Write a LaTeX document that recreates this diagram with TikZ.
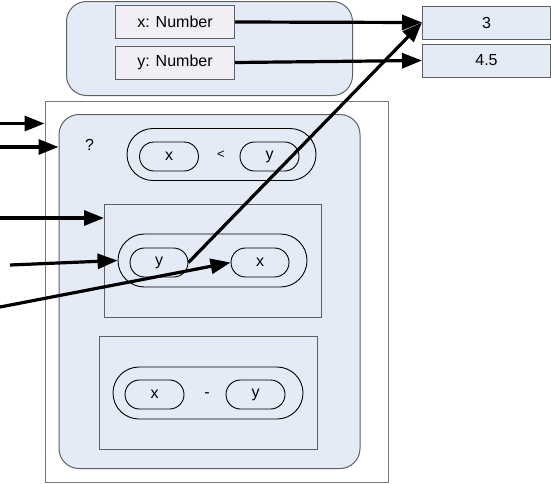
\documentclass[tikz,border=0pt]{standalone}
\usepackage{fontspec}
\setmainfont{Liberation Sans}
\usetikzlibrary{arrows.meta,shapes.misc}
\definecolor{lblue}{HTML}{E4EBF6}
\definecolor{lav}{HTML}{F1EFF5}
\definecolor{bgray}{HTML}{606060}
\definecolor{ogray}{HTML}{7A7A7A}
\tikzset{
  box/.style={draw=bgray, line width=1pt, inner sep=0pt, anchor=north west},
  namebox/.style={box, fill=lav},
  valbox/.style={box, fill=lblue},
  panel/.style={box, fill=lblue, rounded corners=20pt},
  plainrect/.style={draw=bgray, line width=1pt, inner sep=0pt, anchor=north west},
  pill/.style={rounded rectangle, draw=black, line width=0.9pt, inner sep=0pt, anchor=center},
  arr/.style={line width=3.2pt, -{Triangle[length=20pt,width=15pt]}},
  lbl/.style={inner sep=0pt, text height=11.5pt, text depth=3.5pt}
}
\begin{document}
\begin{tikzpicture}[x=1pt,y=-1pt,font=\fontsize{16}{18}\selectfont]
\useasboundingbox (0,0) rectangle (551,483);
% top record
\node[panel, minimum width=286pt, minimum height=94pt] (top) at (66,1) {};
\node[namebox, minimum width=119pt, minimum height=33pt] (xn) at (115,5) {x: Number};
\node[namebox, minimum width=119pt, minimum height=33pt] (yn) at (115,45.5) {y: Number};
% values
\node[valbox, minimum width=128pt, minimum height=33pt] (v3) at (422,5.5) {3};
\node[valbox, minimum width=128pt, minimum height=33pt] (v45) at (422,43.5) {4.5};
% outer frame
\node[box, draw=ogray, fill=white, minimum width=343pt, minimum height=381pt] (outer) at (44.5,100.5) {};
\node[panel, minimum width=301pt, minimum height=354pt] (inner) at (58.5,114) {};
\node[lbl] (q) at (89.5,146.5) {?};
% condition
\node[pill, minimum width=189pt, minimum height=52pt] (cmp) at (221.5,154.5) {};
\node[pill, minimum width=59pt, minimum height=29pt] (cx) at (169,156.5) {x};
\node[pill, minimum width=59pt, minimum height=29pt] (cy) at (269.5,156.5) {y};
\node[lbl] (lt) at (221,154) {\fontsize{13}{15}\selectfont <};
% then branch
\node[plainrect, minimum width=217pt, minimum height=113pt] (r2) at (104,204) {};
\node[pill, minimum width=189pt, minimum height=53pt] (p2) at (212.5,260.5) {};
\node[pill, minimum width=58pt, minimum height=29pt] (py) at (159,262.5) {y};
\node[pill, minimum width=58pt, minimum height=29pt] (px) at (260,262.5) {x};
% else branch
\node[plainrect, minimum width=218pt, minimum height=113pt] (r3) at (99,336) {};
\node[pill, minimum width=190pt, minimum height=52pt] (p3) at (208,393) {};
\node[pill, minimum width=59pt, minimum height=29pt] (qx) at (154.5,394.5) {x};
\node[pill, minimum width=59pt, minimum height=29pt] (qy) at (255.5,394.5) {y};
\node[lbl] (mi) at (207,393) {-};
% free ends
\coordinate (a1) at (0,123.5);
\coordinate (a2) at (0,147);
\coordinate (a3) at (0,218);
\coordinate (a4) at (10,265);
\coordinate (a5) at (0,307);
% connectors
\draw[arr] (xn.east) -- (v3.west);
\draw[arr] (yn.east) -- (v45.west);
\draw[arr] (py.east) -- (v3.west);
\draw[arr] (a1) -- (outer.west |- a1);
\draw[arr] (a2) -- (inner.west |- a2);
\draw[arr] (a3) -- (r2.west |- a3);
\draw[arr] (a4) -- (p2.west);
\draw[arr] (a5) -- (px.west);
\end{tikzpicture}
\end{document}
